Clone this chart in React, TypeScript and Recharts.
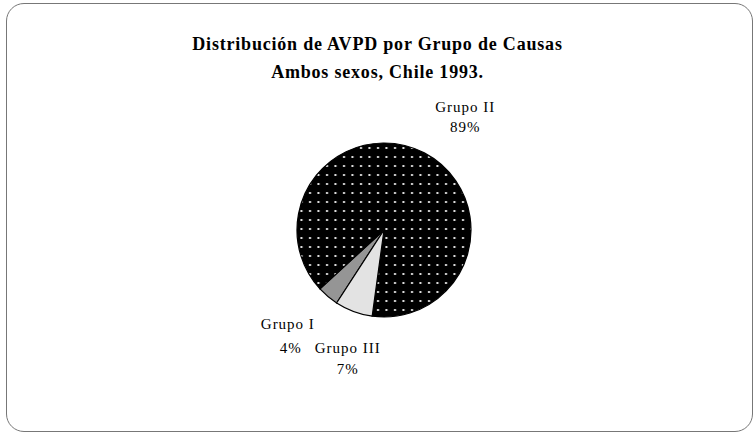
import React from "react";
import { PieChart, Pie, Cell } from "recharts";

const categories = ["Grupo I", "Grupo II", "Grupo III"];
const shares = [4, 89, 7];
const titleLines = ["Distribución de AVPD por Grupo de Causas", "Ambos sexos, Chile 1993."];

const fills = ["#959595", "url(#dotPattern)", "#e3e3e3"];
// label nudges (pixels) relative to the slice's outer-edge mid point
const labelNudge: Record<string, { dx: number; dy: number; gap: number; pdx: number }> = {
  "Grupo I": { dx: -40, dy: 33, gap: 24, pdx: 3 },
  "Grupo II": { dx: 41, dy: -41, gap: 20, pdx: 0 },
  "Grupo III": { dx: -6, dy: 41, gap: 21, pdx: 0 },
};

const data = categories.map((name, i) => ({ name, value: shares[i] }));

const RAD = Math.PI / 180;
const FONT = "'Liberation Serif', 'Times New Roman', serif";

const renderLabel = (props: any) => {
  const { cx, cy, midAngle, outerRadius, name, value } = props;
  const px = cx + outerRadius * Math.cos(-midAngle * RAD);
  const py = cy + outerRadius * Math.sin(-midAngle * RAD);
  const n = labelNudge[name] || { dx: 0, dy: 0, gap: 20, pdx: 0 };
  const x = px + n.dx;
  const y = py + n.dy;
  return (
    <g>
      <text x={x} y={y} textAnchor="middle" fontFamily={FONT} fontSize={15} letterSpacing={1} fill="#000">
        {name}
      </text>
      <text x={x + n.pdx} y={y + n.gap} textAnchor="middle" fontFamily={FONT} fontSize={15} letterSpacing={1} fill="#000">
        {`${value}%`}
      </text>
    </g>
  );
};

export default function App() {
  return (
    <div style={{ position: "absolute", left: 0, top: 0, width: 755, height: 436, background: "#fff" }}>
      <svg width={0} height={0} style={{ position: "absolute" }}>
        <defs>
          <pattern id="dotPattern" patternUnits="userSpaceOnUse" width={8.5} height={9}>
            <rect x={0} y={0} width={8.5} height={9} fill="#000" />
            <rect x={3} y={3} width={2} height={2} fill="#e6e6e6" />
          </pattern>
        </defs>
      </svg>
      <div
        style={{
          position: "absolute",
          left: 6,
          top: 3,
          width: 745,
          height: 427,
          border: "1.5px solid #777",
          borderRadius: 18,
        }}
      />
      <div
        style={{
          position: "absolute",
          left: 0,
          top: 30,
          width: 755,
          textAlign: "center",
          fontFamily: FONT,
          fontWeight: "bold",
          fontSize: 18,
          letterSpacing: 0.8,
          lineHeight: "28px",
          color: "#000",
        }}
      >
        <div>{titleLines[0]}</div>
        <div>{titleLines[1]}</div>
      </div>
      <div style={{ position: "absolute", left: 0, top: 0 }}>
        <PieChart width={755} height={436} margin={{ top: 0, right: 0, bottom: 0, left: 0 }}>
          <Pie
            data={data}
            dataKey="value"
            nameKey="name"
            cx={384}
            cy={230}
            outerRadius={87}
            startAngle={237}
            endAngle={-123}
            stroke="#000"
            strokeWidth={1.2}
            label={renderLabel}
            labelLine={false}
            isAnimationActive={false}
          >
            {data.map((d, i) => (
              <Cell key={d.name} fill={fills[i]} />
            ))}
          </Pie>
        </PieChart>
      </div>
    </div>
  );
}
